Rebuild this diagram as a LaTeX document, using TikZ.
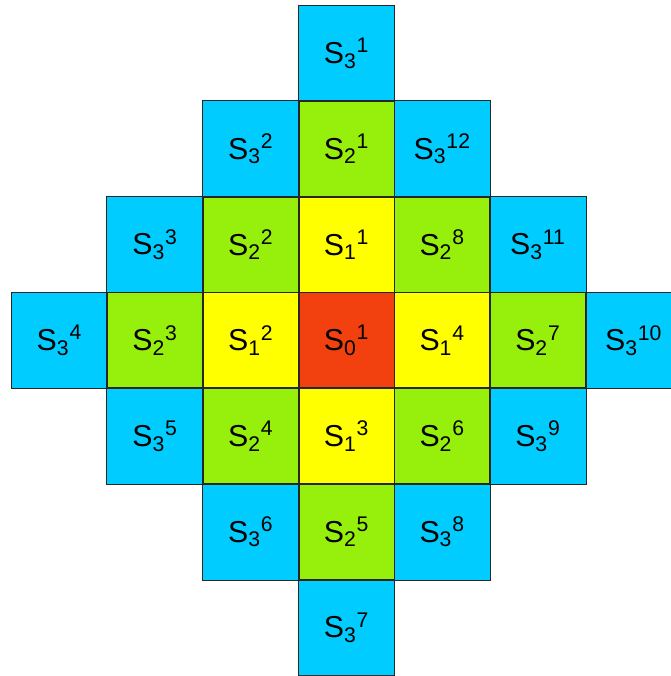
\documentclass[tikz,border=0pt]{standalone}
\usepackage{fontspec}
\setmainfont{Liberation Sans}
\usepackage{tikz}
\definecolor{ring0}{RGB}{242,64,14}
\definecolor{ring1}{RGB}{255,255,0}
\definecolor{ring2}{RGB}{150,240,12}
\definecolor{ring3}{RGB}{0,204,255}
% x/y/ring/index of every cell
\newcommand{\celllist}{0/0/0/1,
  0/1/1/1, -1/0/1/2, 0/-1/1/3, 1/0/1/4,
  0/2/2/1, -1/1/2/2, -2/0/2/3, -1/-1/2/4, 0/-2/2/5, 1/-1/2/6, 2/0/2/7, 1/1/2/8,
  0/3/3/1, -1/2/3/2, -2/1/3/3, -3/0/3/4, -2/-1/3/5, -1/-2/3/6,
  0/-3/3/7, 1/-2/3/8, 2/-1/3/9, 3/0/3/10, 2/1/3/11, 1/2/3/12}

\begin{document}
\begin{tikzpicture}[x=2cm, y=2cm, font=\fontsize{18}{20}\selectfont]
  \tikzset{cell/.style={minimum size=2cm, inner sep=0pt, fill=ring#1},
    edge/.style={draw=black!85, line width=0.6pt}}
  \useasboundingbox (-3.621,-3.506) rectangle (3.380,3.557);
  % rings of the diamond, n = |x|+|y|
  \foreach \x/\y/\n/\k in \celllist
    \node[cell=\n] (s\n-\k) at (\x,\y) {S\textsubscript{\n}\textsuperscript{\k}};
  % borders on top of all fills
  \foreach \x/\y/\n/\k in \celllist
    \draw[edge] (s\n-\k.south west) rectangle (s\n-\k.north east);
\end{tikzpicture}
\end{document}
